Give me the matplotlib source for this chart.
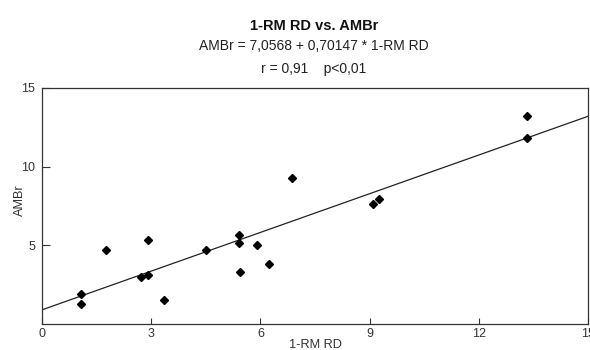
import numpy as np
import matplotlib.pyplot as plt

plt.rcParams['font.family'] = ['Liberation Sans', 'DejaVu Sans']

# data
rm_rd = [1.07, 1.07, 1.76, 2.90, 2.73, 2.91, 3.36, 4.51, 5.41, 5.42,
         5.44, 5.90, 6.24, 6.87, 9.10, 9.27, 13.32, 13.32]
ambr = [1.93, 1.27, 4.69, 5.31, 2.97, 3.12, 1.53, 4.69, 5.67, 5.12,
        3.29, 4.99, 3.84, 9.28, 7.62, 7.94, 13.2, 11.85]

# fitted line as drawn
fit_intercept = 0.9
fit_slope = 0.82

x_ticks = [0, 3, 6, 9, 12, 15]
y_ticks = [5, 10, 15]

fig = plt.figure(figsize=(5.9, 3.5), dpi=100)
ax = fig.add_axes([0.0712, 0.0743, 0.9254, 0.6743])

xl = np.array([0, 15])
ax.plot(xl, fit_intercept + fit_slope * xl, color='#222222', lw=0.9)
ax.plot(rm_rd, ambr, 'D', color='black', markersize=4, linestyle='none')

ax.set_xlim(0, 15)
ax.set_ylim(0, 15)
ax.set_xticks(x_ticks)
ax.set_yticks(y_ticks)
ax.tick_params(axis='both', labelsize=9, colors='#333333', width=0.8, direction='in')
ax.tick_params(axis='x', length=4.5, pad=3)
ax.tick_params(axis='y', length=5.5, pad=5)
for s in ax.spines.values():
    s.set_color('#333333')
    s.set_linewidth(0.9)

ax.set_xlabel('1-RM RD', fontsize=9.2, color='#333333')
ax.xaxis.set_label_coords(0.5, -0.1017)
ax.xaxis.label.set_va('baseline')
ax.set_ylabel('AMBr', fontsize=9.2, color='#333333')
ax.yaxis.set_label_coords(-0.041, 0.525)
ax.yaxis.label.set_va('center')

fig.text(0.532, 1 - 29.5 / 350, '1-RM RD vs. AMBr', ha='center', va='baseline',
         fontsize=10.5, fontweight='bold', color='#111111')
fig.text(0.532, 1 - 50 / 350, 'AMBr = 7,0568 + 0,70147 * 1-RM RD', ha='center', va='baseline',
         fontsize=10, color='#222222')
fig.text(0.532, 1 - 73 / 350, 'r = 0,91    p<0,01', ha='center', va='baseline',
         fontsize=10, color='#222222')

fig.savefig('out.png', dpi=100)
